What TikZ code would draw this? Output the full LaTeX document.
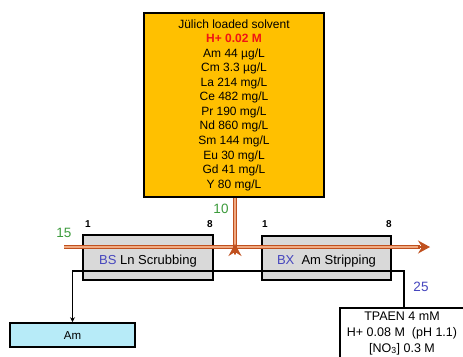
\documentclass[tikz,border=0pt]{standalone}
\usepackage{fontspec}
\setmainfont{Liberation Sans}
\usetikzlibrary{arrows.meta}
\definecolor{feedyellow}{RGB}{255,192,0}
\definecolor{stagegray}{RGB}{217,217,217}
\definecolor{amblue}{RGB}{183,235,248}
\definecolor{flowbrown}{RGB}{192,80,30}
\definecolor{flowlight}{RGB}{240,170,130}
\definecolor{numgreen}{RGB}{60,155,60}
\definecolor{numblue}{RGB}{70,70,190}
\definecolor{hred}{RGB}{240,20,20}
\tikzset{
  box/.style={draw=black, line width=1.6pt, inner sep=0pt},
  txt/.style={inner sep=0pt, font=\fontsize{11.5}{13}\selectfont},
  stagenum/.style={inner sep=0pt, font=\fontsize{10}{12}\selectfont\bfseries},
  flownum/.style={inner sep=0pt, font=\fontsize{13.5}{15}\selectfont},
  flowouter/.style={draw=flowbrown, line width=4.4pt},
  flowinner/.style={draw=flowlight, line width=1.6pt},
  flowtip/.style={-{Stealth[length=12pt,width=13pt,inset=4pt]}, draw=flowbrown, fill=flowbrown, line width=1.2pt},
  blackline/.style={draw=black, line width=1.4pt},
}
\begin{document}
\begin{tikzpicture}[x=1pt,y=-1pt]
\useasboundingbox (0,0) rectangle (463,356);
\clip (0,0) rectangle (463,356);
\fill[white] (0,0) rectangle (463,356);

% feed box
\node[box, fill=feedyellow, minimum width=180pt, minimum height=184pt] (feed) at (234,105) {};
\node[txt, align=center, font=\fontsize{12}{14.55}\selectfont] (feedtext) at (234,105) {%
J\"ulich loaded solvent\\
\textcolor{hred}{\bfseries H+ 0.02 M}\\
Am 44 \textmu g/L\\
Cm 3.3 \textmu g/L\\
La 214 mg/L\\
Ce 482 mg/L\\
Pr 190 mg/L\\
Nd 860 mg/L\\
Sm 144 mg/L\\
Eu 30 mg/L\\
Gd 41 mg/L\\
Y 80 mg/L};

% stage boxes
\node[box, fill=stagegray, minimum width=130pt, minimum height=45pt] (bs) at (148,257.5) {};
\node[txt, font=\fontsize{13}{15}\selectfont] (bslabel) at (148,261) {\textcolor{numblue}{BS} Ln Scrubbing};
\node[box, fill=stagegray, minimum width=129pt, minimum height=44pt] (bx) at (326.5,258) {};
\node[txt, font=\fontsize{13}{15}\selectfont] (bxlabel) at (326.5,261) {\textcolor{numblue}{BX}\ \ Am Stripping};

\node[stagenum] (bs1) at (88,224) {1};
\node[stagenum] (bs8) at (210,224) {8};
\node[stagenum] (bx1) at (265,224) {1};
\node[stagenum] (bx8) at (389,224) {8};

% product box
\node[box, fill=amblue, minimum width=125pt, minimum height=24pt] (am) at (72.5,335) {};
\node[txt] (amlabel) at (72.5,336) {Am};

% strip feed box
\node[box, fill=white, minimum width=140pt, minimum height=70pt, anchor=north west] (tp) at (339,307) {};
\node[txt, align=center, font=\fontsize{12.5}{16}\selectfont] (tptext) at (402,333) {%
TPAEN 4 mM\\
H+ 0.08 M\ \ (pH 1.1)\\
{[}NO\textsubscript{3}] 0.3 M};

% flow numbers
\node[flownum, text=numgreen] (n15) at (64,233) {15};
\node[flownum, text=numgreen] (n10) at (221,209) {10};
\node[flownum, text=numblue] (n25) at (421,287) {25};

% solvent flow
\coordinate (solin) at (64,247);
\coordinate (solout) at (430,247);
\coordinate (feedin) at (235,244);
\draw[flowouter] (solin) -- ([xshift=-10pt]solout);
\draw[flowinner] (solin) -- ([xshift=-12pt]solout);
\draw[flowtip] ([xshift=-11pt]solout) -- (solout);

\draw[flowouter] (feed.south -| feedin) -- ([yshift=-9pt]feedin);
\draw[flowinner] (feed.south -| feedin) -- ([yshift=-11pt]feedin);
\draw[flowtip] ([yshift=-10pt]feedin) -- (feedin);

% aqueous flow
\draw[blackline, -{Stealth[length=5pt,width=5pt]}] ([xshift=65pt]tp.north west) |- ++(0,-36) -| (am.north);
\end{tikzpicture}
\end{document}
